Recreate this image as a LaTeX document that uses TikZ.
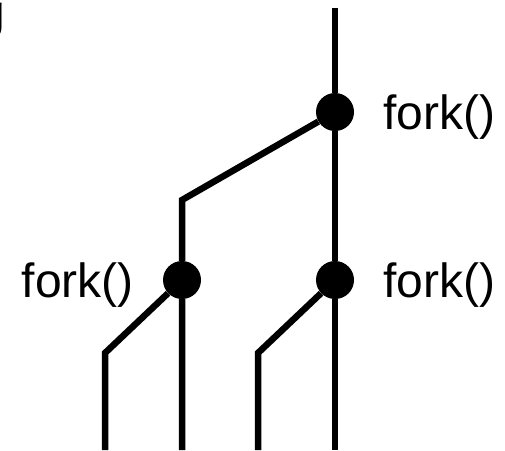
\documentclass[tikz,border=0pt]{standalone}
\usepackage{fontspec}
\setmainfont{Liberation Sans}
\usetikzlibrary{positioning}
\tikzset{every node/.append style={align=center}}
\tikzset{
  forkdot/.style={circle, fill=black, inner sep=0pt, minimum size=38pt},
  forklabel/.style={font=\fontsize{48}{56}\selectfont, inner sep=0pt},
  thread/.style={line width=6.5pt}
}

\begin{document}
\begin{tikzpicture}[x=1pt, y=-1pt]
    \useasboundingbox (0,0) rectangle (505,450);

    % Cut-off text in the corner
    \node[forklabel, anchor=base west] (corner) at (-22, 28) {g};

    % Fork points
    \node[forkdot] (forkA) at (335, 112) {};
    \node[forkdot] (forkB) at (182, 280) {};
    \node[forkdot] (forkC) at (335, 280) {};

    % Labels
    \node[forklabel, anchor=base west] (labelA) at (383, 129) {fork()};
    \node[forklabel, anchor=base east] (labelB) at (134, 297) {fork()};
    \node[forklabel, anchor=base west] (labelC) at (383, 297) {fork()};

    % Thread ends and bends
    \coordinate (top) at (335, 8);
    \coordinate (bendB) at (182, 200);
    \coordinate (bendD) at (105, 353);
    \coordinate (bendE) at (258, 353);
    \coordinate (endA) at (335, 450);
    \coordinate (endB) at (182, 450);
    \coordinate (endD) at (105, 450);
    \coordinate (endE) at (258, 450);

    % Threads
    \draw[thread] (top) -- (forkA) -- (forkC) -- (endA);
    \draw[thread] (forkA) -- (bendB) -- (forkB) -- (endB);
    \draw[thread] (forkB) -- (bendD) -- (endD);
    \draw[thread] (forkC) -- (bendE) -- (endE);
\end{tikzpicture}
\end{document}
